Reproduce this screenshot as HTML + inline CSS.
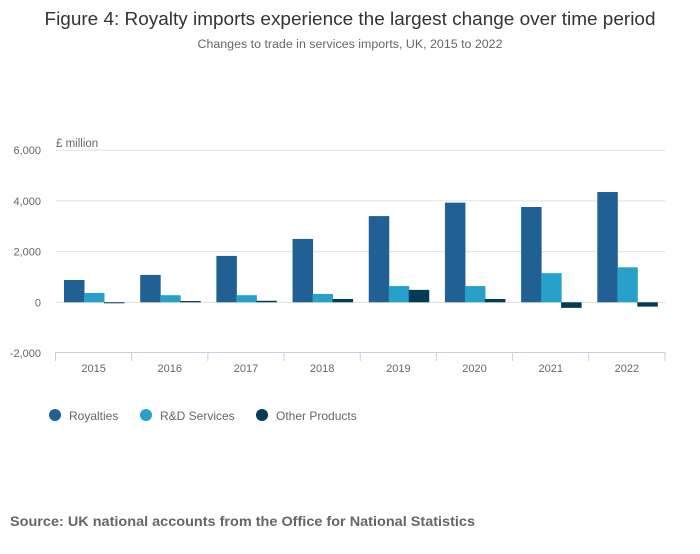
<!DOCTYPE html>
<html><head><meta charset="utf-8"><style>
body{margin:0;background:#fff;width:700px;height:549px;overflow:hidden;font-family:"Liberation Sans",sans-serif;}
</style></head><body>
<svg width="700" height="549" id="svg" font-family="Liberation Sans, sans-serif">
<text x="350" y="25" text-anchor="middle" font-size="18" fill="#333" textLength="611" lengthAdjust="spacingAndGlyphs">Figure 4: Royalty imports experience the largest change over time period</text>
<text x="350" y="48" text-anchor="middle" font-size="11.5" fill="#666" textLength="305" lengthAdjust="spacingAndGlyphs">Changes to trade in services imports, UK, 2015 to 2022</text>
<text x="56" y="147" font-size="11.5" fill="#666">£ million</text>
<g id="grid"></g><g id="bars"></g><g id="xaxis"></g>
<g font-size="12" fill="#666">
<circle cx="55" cy="415" r="6" fill="#206095"/>
<text x="69" y="420">Royalties</text>
<circle cx="146" cy="415" r="6" fill="#27a0cc"/>
<text x="160" y="420">R&amp;D Services</text>
<circle cx="262" cy="415" r="6" fill="#003c57"/>
<text x="276" y="420">Other Products</text>
</g>
<text x="10" y="526" font-size="14" font-weight="bold" fill="#666" textLength="465" lengthAdjust="spacingAndGlyphs">Source: UK national accounts from the Office for National Statistics</text>
</svg>
<script>
const categories=["2015","2016","2017","2018","2019","2020","2021","2022"];
const royalties=[880,1080,1830,2500,3400,3930,3760,4350];
const rdServices=[370,280,280,330,640,640,1150,1380];
const otherProducts=[-30,50,60,130,490,130,-220,-170];
const yTicks=[6000,4000,2000,0,-2000];
const yTickLabels=["6,000","4,000","2,000","0","-2,000"];
const NS="http://www.w3.org/2000/svg";
const x0=55.5,x1=665,catW=(x1-x0)/categories.length;
const y=v=>302.3-v*0.02535;
function mk(t,a,p){const e=document.createElementNS(NS,t);for(const k in a)e.setAttribute(k,a[k]);p.appendChild(e);return e;}
const grid=document.getElementById('grid'),bars=document.getElementById('bars'),xa=document.getElementById('xaxis');
yTicks.forEach((v,i)=>{
 if(v>-2000){const l=mk('line',{x1:x0,x2:x1,y1:y(v),y2:y(v),stroke:'#e0e0e0','stroke-width':1},grid);
 
 }
 const t=mk('text',{x:41,y:y(v)+4,'text-anchor':'end','font-size':11,fill:'#666'},grid);
 t.textContent=yTickLabels[i];
 
 
});
const series=[[royalties,'#206095','royalties'],[rdServices,'#27a0cc','rd-services'],[otherProducts,'#003c57','other-products']];
categories.forEach((c,i)=>{
 const gx=x0+i*catW+8.5;
 series.forEach((s,j)=>{
  const v=s[0][i];const top=Math.min(y(v),y(0));const h=Math.abs(y(v)-y(0));
  const r=mk('rect',{x:gx+j*20,y:top,width:20.5,height:Math.max(h,1),fill:s[1]},bars);
  
  
 });
 const t=mk('text',{x:x0+(i+0.5)*catW,y:372,'text-anchor':'middle','font-size':11,fill:'#666'},xa);
 t.textContent=c;
 
 
});
const ax=mk('line',{x1:x0,x2:x1,y1:352.5,y2:352.5,stroke:'#c5d0e0','stroke-width':1},xa);


for(let i=0;i<=categories.length;i++){
 const tk=mk('line',{x1:x0+i*catW,x2:x0+i*catW,y1:352,y2:361,stroke:'#c5d0e0','stroke-width':1},xa);
 
 
}
</script>
</body></html>
